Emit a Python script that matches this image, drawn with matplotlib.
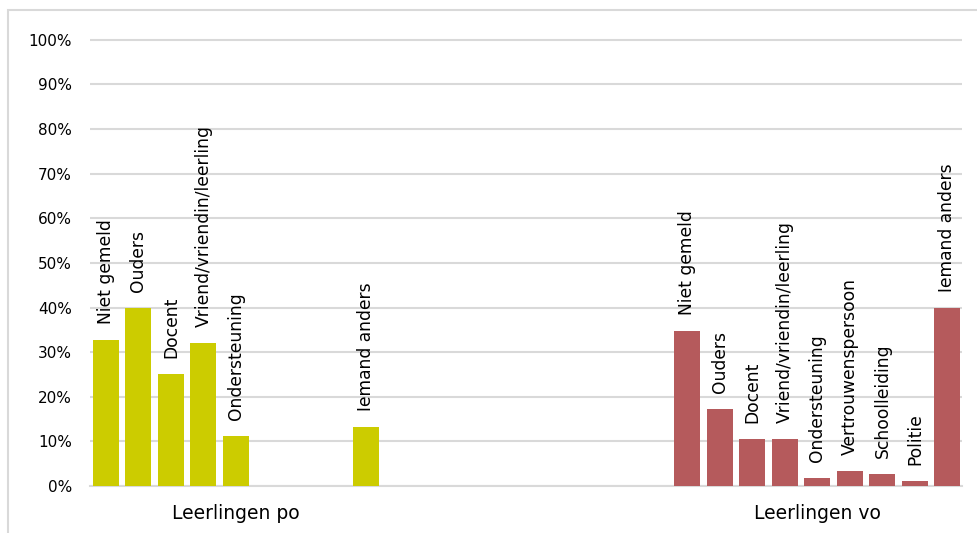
import numpy as np
import matplotlib.pyplot as plt
from matplotlib.patches import Rectangle

# Categorieën (ontvangers van de melding)
categories = ['Niet gemeld', 'Ouders', 'Docent', 'Vriend/vriendin/leerling',
              'Ondersteuning', 'Vertrouwenspersoon', 'Schoolleiding', 'Politie',
              'Iemand anders']
groups = ['Leerlingen po', 'Leerlingen vo']

values_po = [32.7, 40.0, 25.1, 32.1, 11.2, 0, 0, 0, 13.2]
values_vo = [34.7, 17.3, 10.6, 10.6, 1.9, 3.4, 2.7, 1.1, 39.9]

colors = ['#CCCC00', '#B55A5C']

fig = plt.figure(figsize=(9.78, 5.33), dpi=100)
ax = fig.add_axes([90 / 978, 47 / 533, 872 / 978, 448 / 533])

# lichtgrijze kader rond de figuur
fig.patches.append(Rectangle((8 / 978, -0.2), 1.2, 1.2 - 10 / 533,
                             transform=fig.transFigure, fill=False,
                             edgecolor='#d9d9d9', linewidth=1.5, zorder=0))

offsets = [0, 17.9]
for values, off, color in zip([values_po, values_vo], offsets, colors):
    x = np.arange(len(categories)) + off
    ax.bar(x, values, width=0.8, color=color, zorder=3)
    for xi, v, lab in zip(x, values, categories):
        if v == 0:
            continue
        ax.annotate(lab, (xi, v), xytext=(0, 16), textcoords='offset pixels',
                    rotation=90, ha='center', va='bottom', fontsize=12.3)

ax.set_xlim(-0.49, 26.35)
ax.set_ylim(0, 100.4)
ax.set_yticks(range(0, 101, 10))
ax.set_yticklabels([f'{t}%' for t in range(0, 101, 10)], fontsize=11)
ax.tick_params(axis='y', length=0, pad=13)
ax.yaxis.grid(True, color='#d9d9d9', linewidth=1.5, zorder=0)

ax.set_xticks([4, 4 + 17.9])
ax.set_xticklabels(groups, fontsize=13.5)
ax.tick_params(axis='x', length=0, pad=13)

for side in ['top', 'right', 'left']:
    ax.spines[side].set_visible(False)
ax.spines['bottom'].set_color('#d9d9d9')
ax.spines['bottom'].set_linewidth(1.5)

fig.savefig('out.png', dpi=100)
